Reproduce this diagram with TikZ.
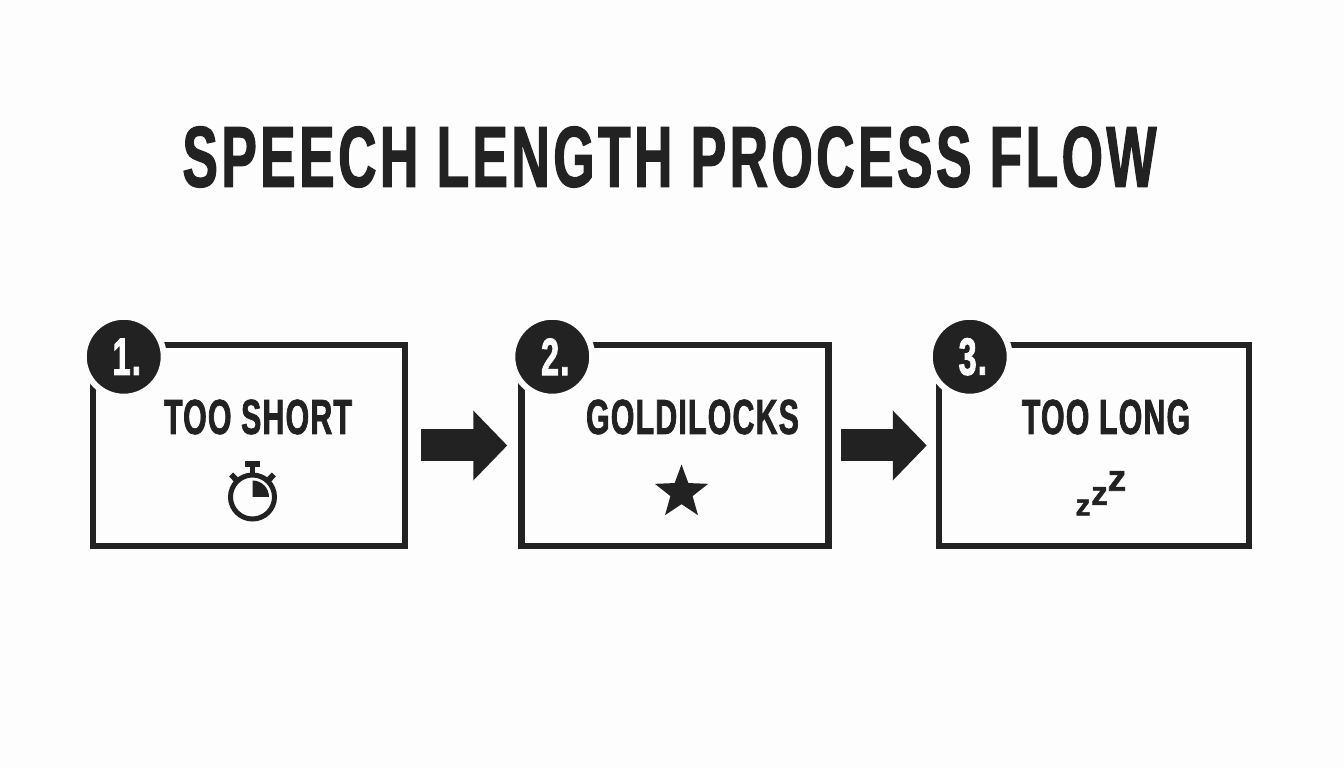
\documentclass[tikz,border=0pt]{standalone}
\usepackage{fontspec}
\usetikzlibrary{calc,positioning,arrows.meta,shapes.geometric}
\newfontfamily\titlefont[FakeStretch=0.615,FakeBold=1.5,LetterSpace=4.2]{Liberation Sans Bold}
\newfontfamily\headfont[FakeStretch=0.615,FakeBold=1.5,LetterSpace=2.5]{Liberation Sans Bold}
\newfontfamily\zedfont[FakeBold=1.5]{Liberation Sans Bold}
\definecolor{ink}{HTML}{222222}
\definecolor{paper}{HTML}{FDFDFD}
\tikzset{
	stagebox/.style={draw=ink, line width=0.13cm, minimum height=4.02cm},
	numdot/.style={circle, fill=ink, draw=paper, line width=0.12cm, minimum size=1.6cm, inner sep=0pt, text=paper, font=\headfont\fontsize{30}{30}\selectfont},
	stagelabel/.style={text=ink, inner sep=0pt, font=\headfont\fontsize{28}{28}\selectfont},
	flowarrow/.style={draw=ink, line width=0.64cm, -{Triangle[width=1.36cm, length=0.68cm]}},
	zed/.style={text=ink, inner sep=0pt}
}
\begin{document}
\begin{tikzpicture}
	\fill[paper] (0,0) rectangle (26.88,15.36);
	\useasboundingbox (0,0) rectangle (26.88,15.36);

	\node[text=ink, inner sep=0pt, font=\titlefont\fontsize{49}{49}\selectfont] (title) at (13.39,12.22) {SPEECH LENGTH PROCESS FLOW};

	% the three stages
	\node[stagebox, minimum width=6.24cm] (box1) at (4.98,6.45) {};
	\node[stagebox, minimum width=6.14cm, right=2.2cm of box1] (box2) {};
	\node[stagebox, minimum width=6.2cm, right=2.08cm of box2] (box3) {};

	\foreach \n in {1,2,3}
		\node[numdot] (num\n) at ([shift={(0.68,-0.30)}]box\n.north west) {\hspace*{0.12cm}\n.};

	\node[stagelabel] (short) at ([shift={(0.18,0.57)}]box1.center) {TOO SHORT};
	\node[stagelabel] (gold) at ([shift={(0.35,0.57)}]box2.center) {GOLDILOCKS};
	\node[stagelabel] (long) at ([shift={(0.24,0.57)}]box3.center) {TOO LONG};

	% arrows
	\draw[flowarrow, shorten <=0.26cm, shorten >=0.22cm] (box1) -- (box2);
	\draw[flowarrow, shorten <=0.18cm, shorten >=0.18cm] (box2) -- (box3);

	% stopwatch
	\coordinate (watch) at ([shift={(0.07,-1.03)}]box1.center);
	\draw[ink, line width=0.1cm] (watch) circle (0.44cm);
	\fill[ink] (watch) -- ++(0,0.33) arc (90:0:0.33) -- cycle;
	\fill[ink] ($(watch)+(-0.15,0.72)$) rectangle ($(watch)+(0.15,0.6)$);
	\fill[ink] ($(watch)+(-0.05,0.62)$) rectangle ($(watch)+(0.05,0.44)$);
	\draw[ink, line width=0.09cm] ($(watch)+(-0.31,0.31)$) -- ($(watch)+(-0.38,0.38)$);
	\draw[ink, line width=0.09cm] ($(watch)+(0.31,0.31)$) -- ($(watch)+(0.38,0.38)$);
	\draw[ink, line width=0.14cm] ($(watch)+(-0.42,0.36)$) -- ($(watch)+(-0.34,0.44)$);
	\draw[ink, line width=0.14cm] ($(watch)+(0.42,0.36)$) -- ($(watch)+(0.34,0.44)$);

	% star
	\node[star, star points=5, star point ratio=2.4, fill=ink, minimum size=1.12cm, inner sep=0pt] (goldstar) at ([shift={(0.13,-0.94)}]box2.center) {};

	% zzz
	\node[zed, font=\zedfont\fontsize{17}{17}\selectfont] (z1) at (21.66,5.21) {z};
	\node[zed, font=\zedfont\fontsize{19}{19}\selectfont] (z2) at (21.99,5.44) {z};
	\node[zed, font=\zedfont\fontsize{21}{21}\selectfont] (z3) at (22.34,5.74) {z};
\end{tikzpicture}
\end{document}
